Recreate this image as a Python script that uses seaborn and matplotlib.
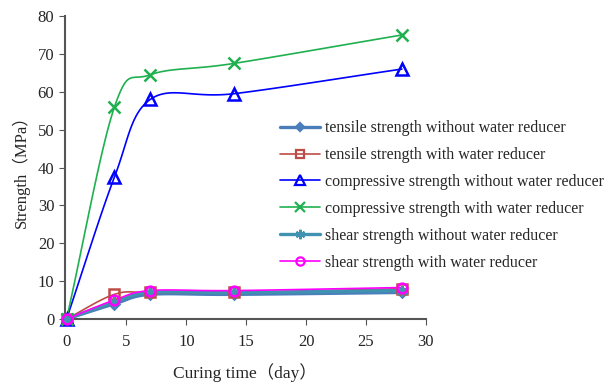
import numpy as np
import pandas as pd
import matplotlib
matplotlib.use("Agg")
import matplotlib.pyplot as plt
from matplotlib.lines import Line2D
import seaborn as sns

days = [0, 4, 7, 14, 28]
tensile_without = [0.0, 4.0, 6.5, 6.5, 7.0]
tensile_with = [0.0, 6.5, 7.0, 7.0, 8.0]
compressive_without = [0.0, 37.5, 58.0, 59.5, 66.0]
compressive_with = [0.0, 56.0, 64.5, 67.5, 75.0]
shear_without = [0.0, 4.5, 7.0, 7.0, 7.5]
shear_with = [0.0, 5.0, 7.5, 7.5, 8.3]

labels = [
    "tensile strength without water reducer",
    "tensile strength with water reducer",
    "compressive strength without water reducer",
    "compressive strength with water reducer",
    "shear strength without water reducer",
    "shear strength with water reducer",
]
series = [tensile_without, tensile_with, compressive_without,
          compressive_with, shear_without, shear_with]

styles = [
    dict(color="#4A7EBB", marker="D", mfc="#4A7EBB", ms=5, lw=2.4),
    dict(color="#BE4B48", marker="s", mfc="none", ms=6.5, lw=1.2),
    dict(color="#0000FF", marker="^", mfc="none", ms=8, lw=1.2),
    dict(color="#1FB050", marker="x", mfc="none", ms=8, lw=1.2),
    dict(color="#3F92B0", marker=(6, 2, 0), mfc="#3F92B0", ms=8, lw=2.4),
    dict(color="#FF00FF", marker="o", mfc="none", ms=7, lw=1.2),
]


def smooth(x, y, n=30):
    # Catmull-Rom drawing of the curve through the data points (display only)
    x = np.asarray(x, float); y = np.asarray(y, float)
    px = np.concatenate([[2 * x[0] - x[1]], x, [2 * x[-1] - x[-2]]])
    py = np.concatenate([[2 * y[0] - y[1]], y, [2 * y[-1] - y[-2]]])
    xs, ys = [], []
    t = np.linspace(0, 1, n)
    for i in range(1, len(px) - 2):
        for arr, out in ((px, xs), (py, ys)):
            p0, p1, p2, p3 = arr[i - 1], arr[i], arr[i + 1], arr[i + 2]
            out.extend(0.5 * ((2 * p1) + (-p0 + p2) * t
                              + (2 * p0 - 5 * p1 + 4 * p2 - p3) * t ** 2
                              + (-p0 + 3 * p1 - 3 * p2 + p3) * t ** 3))
    return np.array(xs), np.array(ys)


sns.set_style("ticks")
plt.rcParams["font.family"] = ["Liberation Serif", "Noto Sans CJK SC", "DejaVu Sans"]

fig = plt.figure(figsize=(6.11, 3.82), dpi=100)
ax = fig.add_axes([0.106, 0.165, 0.591, 0.793])

handles = []
for lab, vals, st in zip(labels, series, styles):
    sx, sy = smooth(days, vals)
    ax.plot(sx, sy, color=st["color"], lw=st["lw"], zorder=2, clip_on=False)
    df = pd.DataFrame({"day": days, "v": vals})
    sns.lineplot(data=df, x="day", y="v", ax=ax, linestyle="none",
                 marker=st["marker"], markersize=st["ms"],
                 markerfacecolor=st["mfc"], markeredgecolor=st["color"],
                 markeredgewidth=1.8, color=st["color"], zorder=3, clip_on=False)
    handles.append(Line2D([], [], color=st["color"], lw=st["lw"],
                          marker=st["marker"], markersize=st["ms"] * 0.85,
                          markerfacecolor=st["mfc"], markeredgecolor=st["color"],
                          markeredgewidth=1.6, label=lab))

ax.set_xlim(-0.15, 30)
ax.set_ylim(0, 80)
ax.set_xticks(range(0, 31, 5))
ax.set_yticks(range(0, 81, 10))
ax.set_xlabel("Curing time（day）", fontsize=12.5, labelpad=9)
ax.set_ylabel("Strength（MPa）", fontsize=12, labelpad=6)
ax.tick_params(axis="x", pad=7)
ax.tick_params(labelsize=12, direction="out", length=4, color="#555555")
for s in ("left", "bottom"):
    ax.spines[s].set_color("#555555")
    ax.spines[s].set_linewidth(1.5)
sns.despine(ax=ax)

fig.legend(handles=handles, loc="upper left", bbox_to_anchor=(0.458, 0.685),
           frameon=False, fontsize=11.5, handlelength=2.5, labelspacing=0.68,
           handletextpad=0.35, borderaxespad=0, borderpad=0)

fig.savefig("out.png", dpi=100)
